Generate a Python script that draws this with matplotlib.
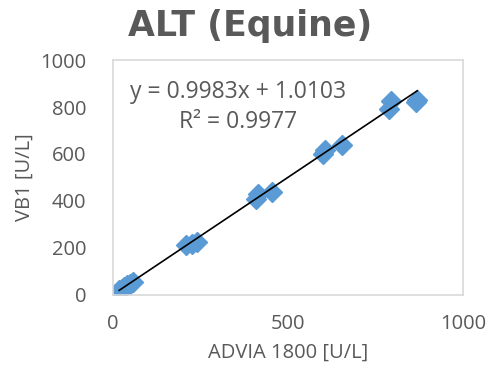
import numpy as np
import matplotlib
matplotlib.use('Agg')
import matplotlib.pyplot as plt

advia = [18, 25, 32, 40, 50, 58, 210, 225, 240, 410, 415, 455, 600, 605, 655, 790, 795, 865, 870]
vb1 = [20, 25, 32, 40, 48, 55, 212, 218, 225, 410, 428, 440, 598, 615, 638, 790, 825, 822, 830]
slope = 0.9983
intercept = 1.0103
r2 = 0.9977

plt.rcParams['font.family'] = ['Open Sans', 'DejaVu Sans']
grey = '#595959'

fig = plt.figure(figsize=(4.95, 3.78), dpi=100)
ax = fig.add_axes([0.228, 0.220, 0.707, 0.621])

ax.plot(advia, vb1, linestyle='none', marker='D', markersize=10,
        color='#5B9BD5', zorder=2)
xs = np.array([min(advia), max(advia)])
ax.plot(xs, slope * xs + intercept, color='black', linewidth=1.2, zorder=3)

ax.set_xlim(0, 1000)
ax.set_ylim(0, 1000)
ax.set_xticks([0, 500, 1000])
ax.set_yticks([0, 200, 400, 600, 800, 1000])
ax.tick_params(length=0, labelsize=14.5, colors=grey)
ax.tick_params(axis='x', pad=14)
ax.tick_params(axis='y', pad=19)
for s in ax.spines.values():
    s.set_color('#D9D9D9')
    s.set_linewidth(1.2)

ax.set_xlabel('ADVIA 1800 [U/L]', fontsize=14.5, color=grey, labelpad=6)
ax.set_ylabel('VB1 [U/L]', fontsize=14.5, color=grey, labelpad=4)
fig.suptitle('ALT (Equine)', fontsize=25, fontweight='bold', color=grey,
             family=['DejaVu Sans'], x=0.505, y=0.975)

ax.text(0.357, 0.80, 'y = 0.9983x + 1.0103\nR² = 0.9977', transform=ax.transAxes,
        ha='center', va='center', fontsize=16.5, color=grey, linespacing=1.3)

fig.savefig('out.png', dpi=100)
